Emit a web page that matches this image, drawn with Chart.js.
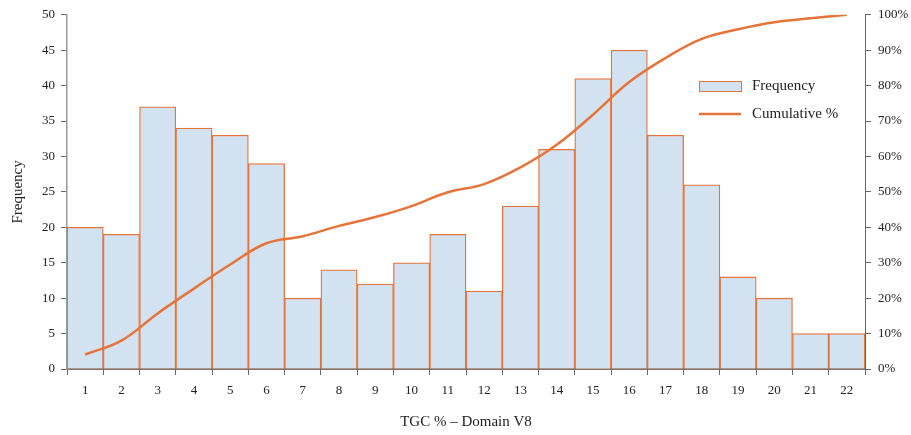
<!DOCTYPE html>
<html>
<head>
<meta charset="utf-8">
<script src="https://cdn.jsdelivr.net/npm/chart.js@4"></script>
<style>
  html, body { margin: 0; padding: 0; background: #fff; }
  #wrap { width: 911px; height: 435px; }
</style>
</head>
<body>
<div id="wrap"><canvas id="grafico"></canvas></div>
<script>
// datos
const categorias = ['1','2','3','4','5','6','7','8','9','10','11','12','13','14','15','16','17','18','19','20','21','22'];
const frecuencia = [20, 19, 37, 34, 33, 29, 10, 14, 12, 15, 19, 11, 23, 31, 41, 45, 33, 26, 13, 10, 5, 5];
const acumulado = [4.1, 8.0, 15.7, 22.7, 29.5, 35.5, 37.5, 40.4, 42.9, 46.0, 49.9, 52.2, 56.9, 63.3, 71.8, 81.0, 87.8, 93.2, 95.9, 97.9, 99.0, 100];

const naranja = '#e4743a';
const azul = '#d3e2f0';
const fuente = 'Liberation Serif';

// leyenda dibujada dentro del área
const leyenda = {
    id: 'leyenda',
    afterDraw(chart) {
        const ctx = chart.ctx;
        ctx.save();
        ctx.fillStyle = azul;
        ctx.fillRect(699, 81, 42, 10);
        ctx.strokeStyle = naranja;
        ctx.lineWidth = 1;
        ctx.strokeRect(699.5, 81.5, 42, 10);
        ctx.beginPath();
        ctx.lineWidth = 2.5;
        ctx.moveTo(699, 114);
        ctx.lineTo(741, 114);
        ctx.stroke();
        ctx.fillStyle = '#222';
        ctx.font = '15px "' + fuente + '"';
        ctx.textBaseline = 'middle';
        ctx.fillText('Frequency', 752, 86);
        ctx.fillText('Cumulative %', 752, 114);
        ctx.restore();
    }
};

new Chart(document.getElementById('grafico'), {
    data: {
        labels: categorias,
        datasets: [{
            type: 'line',
            label: 'Cumulative %',
            data: acumulado,
            yAxisID: 'y1',
            borderColor: naranja,
            borderWidth: 2.5,
            pointRadius: 0,
            tension: 0.4,
            fill: false
        }, {
            type: 'bar',
            label: 'Frequency',
            data: frecuencia,
            yAxisID: 'y',
            backgroundColor: azul,
            borderColor: naranja,
            borderWidth: 1.3,
            categoryPercentage: 1,
            barPercentage: 1
        }]
    },
    options: {
        responsive: true,
        maintainAspectRatio: false,
        animation: false,
        layout: { padding: { top: 4, bottom: 0, left: 5, right: 0 } },
        plugins: { legend: { display: false }, tooltip: { enabled: false } },
        scales: {
            x: {
                offset: true,
                grid: { display: true, drawOnChartArea: false, tickLength: 6, color: '#666', offset: true },
                border: { color: '#8b6f5f', width: 2 },
                ticks: { color: '#222', font: { family: fuente, size: 13 }, maxRotation: 0, padding: 8 },
                title: { display: true, text: 'TGC % – Domain V8', color: '#222', font: { family: fuente, size: 15 }, padding: { top: 14 } },
                afterFit(s) { s.height = 66; }
            },
            y: {
                position: 'left',
                min: 0, max: 50,
                ticks: { stepSize: 5, color: '#222', font: { family: fuente, size: 13 }, padding: 6 },
                grid: { drawOnChartArea: false, tickLength: 6, color: '#666' },
                border: { color: '#999', width: 1.5 },
                title: { display: true, text: 'Frequency', color: '#222', font: { family: fuente, size: 15 } },
                afterFit(s) { s.width = 62; }
            },
            y1: {
                position: 'right',
                min: 0, max: 100,
                ticks: { stepSize: 10, color: '#222', font: { family: fuente, size: 13 }, padding: 7, callback: v => v + '%' },
                grid: { drawOnChartArea: false, tickLength: 6, color: '#666' },
                border: { color: '#666', width: 1 },
                afterFit(s) { s.width = 46; }
            }
        }
    },
    plugins: [leyenda]
});
</script>
</body>
</html>
